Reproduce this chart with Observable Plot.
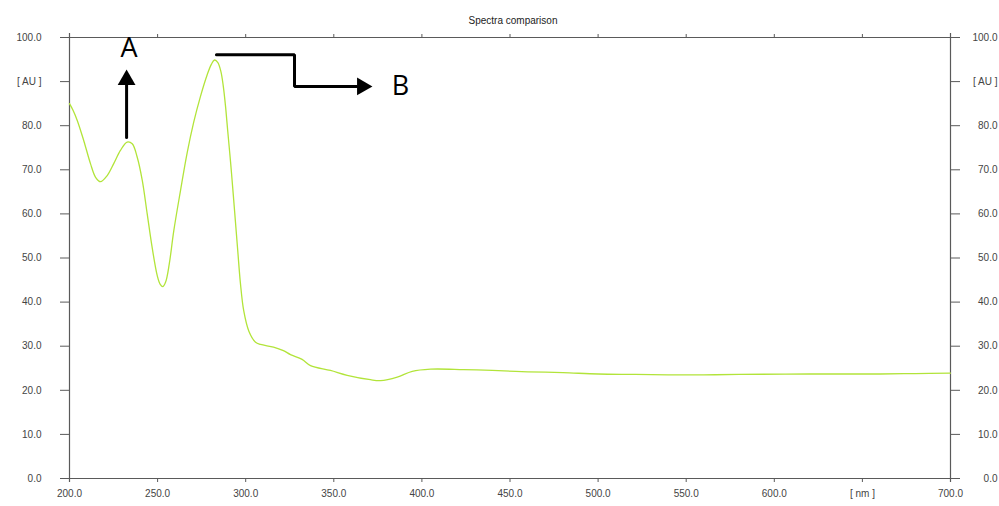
<!DOCTYPE html>
<html>
<head>
<meta charset="utf-8">
<script src="https://cdn.jsdelivr.net/npm/d3@7"></script>
<script src="https://cdn.jsdelivr.net/npm/@observablehq/plot@0.6"></script>
<style>
  html, body { margin: 0; padding: 0; background: #fff; }
  #chart svg { display: block; }
</style>
</head>
<body>
<div id="chart"></div>
<script>
// ---- data ----
const title = "Spectra comparison";
const wavelength = [200.0, 202.0, 204.4, 208.1, 211.9, 214.8, 217.6, 221.4, 225.1, 228.9, 232.7, 235.6, 238.4, 241.3, 244.1, 246.9, 249.8, 251.5, 253.0, 254.6, 256.6, 259.2, 263.0, 266.8, 270.5, 274.3, 278.1, 280.5, 282.3, 284.2, 285.9, 287.2, 288.5, 289.8, 291.4, 292.9, 294.2, 295.5, 297.0, 298.9, 301.8, 305.6, 308.4, 315.8, 321.4, 325.4, 332.0, 336.8, 348.1, 357.6, 370.8, 376.5, 386.0, 394.5, 404.9, 423.6, 440, 460, 480, 500, 520, 540, 560, 580, 620, 660, 680, 700];
const absorbance = [85.0, 83.5, 81.2, 76.6, 71.4, 68.3, 67.3, 68.7, 71.4, 74.4, 76.3, 75.9, 72.9, 67.6, 60.0, 52.4, 46.0, 44.0, 43.5, 44.6, 48.6, 56.2, 65.3, 73.9, 80.8, 86.6, 91.5, 93.9, 94.9, 94.3, 92.3, 89.2, 84.6, 78.8, 71.8, 64.6, 58.1, 51.6, 44.3, 38.0, 33.4, 30.9, 30.4, 29.8, 29.0, 28.1, 27.0, 25.6, 24.5, 23.4, 22.4, 22.2, 23.0, 24.3, 24.8, 24.7, 24.5, 24.2, 24.0, 23.7, 23.6, 23.5, 23.5, 23.6, 23.7, 23.7, 23.8, 23.9];

const xTicks = [200, 250, 300, 350, 400, 450, 500, 550, 600, 650, 700];
const xTickLabels = ["200.0", "250.0", "300.0", "350.0", "400.0", "450.0", "500.0", "550.0", "600.0", "[ nm ]", "700.0"];
const yTicks = [0, 10, 20, 30, 40, 50, 60, 70, 80, 90, 100];
const yTickLabels = ["0.0", "10.0", "20.0", "30.0", "40.0", "50.0", "60.0", "70.0", "80.0", "[ AU ]", "100.0"];

// annotations (data units: nm, AU)
const arrowAStem = [{x: 232.4, y: 77.3}, {x: 232.4, y: 90.0}];
const arrowAHead = [{x: 232.4, y: 90.4, rotate: 0}];
const arrowBPath = [{x: 283.4, y: 96.1}, {x: 327.7, y: 96.1}, {x: 327.7, y: 88.9}, {x: 363.0, y: 88.9}];
const arrowBHead = [{x: 366.1, y: 88.9, rotate: 90}];
const letterNames = ["A", "B"];
const letterX = [233.8, 387.9];
const letterY = [97.5, 88.9];

// ---- build ----
const spectrum = wavelength.map((w, i) => ({w, a: absorbance[i]}));
const letters = letterNames.map((t, i) => ({t, x: letterX[i], y: letterY[i]}));
const xFmt = d => xTickLabels[xTicks.indexOf(d)];
const yFmt = d => yTickLabels[yTicks.indexOf(d)];
const axisColor = "#5a5a5a";
const textColor = "#444";

const chart = Plot.plot({
  width: 999,
  height: 506,
  marginLeft: 69,
  marginRight: 49,
  marginTop: 37,
  marginBottom: 28,
  style: {fontFamily: "'Liberation Sans', Arial, sans-serif", fontSize: "10px", color: textColor, background: "#fff", overflow: "visible"},
  x: {domain: [200, 700], label: null},
  y: {domain: [0, 100], label: null},
  marks: [
    // frame lines extended to tick length
    Plot.ruleY([0, 100], {stroke: axisColor, strokeWidth: 1.2, insetLeft: -9, insetRight: -9}),
    Plot.ruleX([200, 700], {stroke: axisColor, strokeWidth: 1.2, insetTop: -4, insetBottom: -4}),
    Plot.axisX({anchor: "bottom", ticks: xTicks, tickFormat: xFmt, tickSize: 4, tickPadding: 7, stroke: axisColor, fill: textColor, label: null}),
    Plot.axisX({anchor: "top", ticks: xTicks, tickFormat: () => "", tickSize: 4, stroke: axisColor, label: null}),
    Plot.axisY({anchor: "left", ticks: yTicks, tickFormat: yFmt, tickSize: 9, tickPadding: 19, stroke: axisColor, fill: textColor, label: null}),
    Plot.axisY({anchor: "right", ticks: yTicks, tickFormat: yFmt, tickSize: 9, tickPadding: 38, textAnchor: "end", stroke: axisColor, fill: textColor, label: null}),
    // spectrum
    Plot.line(spectrum, {x: "w", y: "a", stroke: "#b2e43a", strokeWidth: 1.3, curve: "catmull-rom"}),
    // annotations
    Plot.line(arrowAStem, {x: "x", y: "y", stroke: "#000", strokeWidth: 3}),
    Plot.dot(arrowAHead, {x: "x", y: "y", symbol: "triangle", r: 6.6, fill: "#000", stroke: null, rotate: "rotate"}),
    Plot.line(arrowBPath, {x: "x", y: "y", stroke: "#000", strokeWidth: 3, strokeLinejoin: "miter", curve: "linear"}),
    Plot.dot(arrowBHead, {x: "x", y: "y", symbol: "triangle", r: 6.6, fill: "#000", stroke: null, rotate: "rotate"}),
    Plot.text(letters, {x: "x", y: "y", text: "t", fontSize: 27, fill: "#000", fontFamily: "'Open Sans', 'Liberation Sans', sans-serif"}),
    // title
    Plot.text([title], {frameAnchor: "top", dy: -21, dx: 3, fontSize: 10, fill: "#222"})
  ]
});
document.getElementById("chart").appendChild(chart);
</script>
</body>
</html>
